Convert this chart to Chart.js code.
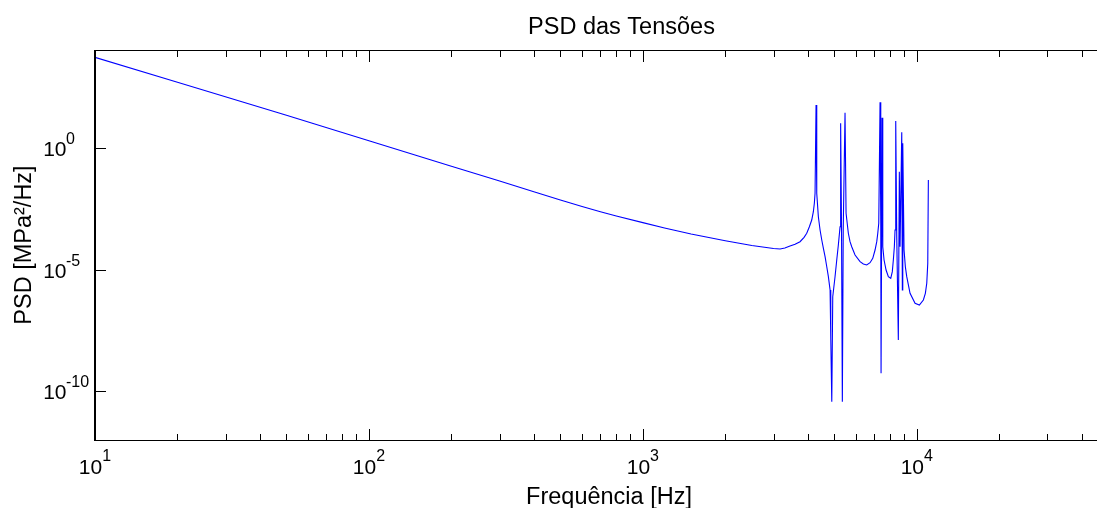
<!DOCTYPE html>
<html>
<head>
<meta charset="utf-8">
<title>PSD das Tensões</title>
<script src="https://cdn.jsdelivr.net/npm/chart.js@4/dist/chart.umd.min.js"></script>
<style>
  html, body { margin: 0; padding: 0; background: #ffffff; }
  #wrap { width: 1097px; height: 508px; position: relative; }
  canvas { display: block; }
</style>
</head>
<body>
<div id="wrap"><canvas id="psdChart" width="1097" height="508"></canvas></div>
<script>
// Texts
const chartTitle = 'PSD das Tensões';
const xAxisTitle = 'Frequência [Hz]';
const yAxisTitle = 'PSD [MPa²/Hz]';

// Frequency axis samples [Hz]
const freqHz = [
  10, 20, 50, 100, 200, 300, 400, 500, 600, 700, 800, 1000, 1200, 1500,
  2000, 2500, 3000, 3170, 3300, 3446, 3595, 3749, 3878, 3966, 4055, 4136,
  4193, 4228, 4253, 4289, 4314, 4373, 4436, 4500, 4562, 4627, 4693, 4757,
  4826, 4854, 4895, 4935, 5031, 5104, 5173, 5248, 5270, 5278, 5313, 5350,
  5390, 5472, 5520, 5626, 5707, 5789, 5953, 6209, 6383, 6567, 6752, 6908,
  7043, 7144, 7206, 7266, 7345, 7389, 7408, 7470, 7515, 7597, 7726, 7876,
  8036, 8143, 8213, 8283, 8331, 8380, 8452, 8565, 8638, 8690, 8815, 8860,
  8890, 8987, 9086, 9193, 9452, 9858, 10221, 10571, 10750, 10877, 10970,
  11024
];

// Stress PSD [MPa²/Hz]
const psdValues = [
  5.5e3, 5.2e2, 22.7, 2.04, 0.183, 4.46e-2, 1.63e-2, 7.41e-3, 3.99e-3, 2.45e-3, 1.63e-3, 8.7e-4, 5.27e-4, 2.99e-4,
  1.58e-4, 1.0e-4, 7.5e-5, 7.2e-5, 7.9e-5, 9.5e-5, 1.12e-4, 1.43e-4, 2.17e-4, 3.18e-4, 5.93e-4, 1.12e-3,
  2.45e-3, 5.45e-3, 1.40e-2, 60, 1.40e-2, 1.53e-3, 4.35e-4, 1.68e-4, 7.67e-5, 3.47e-5, 1.34e-5, 5.21e-6,
  1.48e-6, 1.57e-8, 3.76e-11, 7.83e-7, 5.21e-6, 2.53e-5, 1.05e-4, 5.93e-4, 1.53e-3, 10.6, 5.0e-4, 3.76e-11,
  5.0e-4, 29, 2.11e-3, 3.18e-4, 1.44e-4, 8.93e-5, 4.07e-5, 2.16e-5, 1.73e-5, 1.58e-5, 1.96e-5, 2.97e-5,
  6.53e-5, 1.44e-4, 3.18e-4, 8.18e-4, 78, 8.18e-4, 5.53e-10, 18, 8.93e-5, 2.53e-5, 9.8e-6, 5.21e-6,
  4.48e-6, 8.4e-6, 2.53e-5, 8.93e-5, 4.35e-4, 13.2, 2.3e-4, 1.30e-8, 0.108, 8.93e-5, 4.5, 1.48e-6,
  1.6, 6.53e-5, 1.34e-5, 5.21e-6, 1.08e-6, 4.2e-7, 3.57e-7, 5.73e-7, 1.08e-6, 2.79e-6, 1.85e-5,
  4.94e-2
];

// Axis ticks
const xMajorTicks = [10, 100, 1000, 10000];
const xMajorExponents = ['1', '2', '3', '4'];
const xMinorTicks = [
  20, 30, 40, 50, 60, 70, 80, 90,
  200, 300, 400, 500, 600, 700, 800, 900,
  2000, 3000, 4000, 5000, 6000, 7000, 8000, 9000,
  20000, 30000, 40000
];
const yMajorTicks = [1, 1e-5, 1e-10];
const yMajorExponents = ['0', '-5', '-10'];

const FONT = '"Liberation Sans", Arial, Helvetica, sans-serif';

// Box, tick marks, power-of-ten labels and titles, placed with the chart's own scales
const axesDecor = {
  id: 'axesDecor',
  afterDatasetsDraw(chart) {
    const { ctx, chartArea: a, scales } = chart;
    const xs = scales.x, ys = scales.y;
    ctx.save();
    ctx.strokeStyle = '#000000';
    ctx.fillStyle = '#000000';

    // frame lines
    ctx.lineWidth = 1;
    ctx.beginPath();
    ctx.moveTo(a.left, a.top - 0.5); ctx.lineTo(a.right, a.top - 0.5);
    ctx.moveTo(a.left, a.bottom + 0.5); ctx.lineTo(a.right, a.bottom + 0.5);
    ctx.stroke();
    ctx.lineWidth = 2;
    ctx.beginPath();
    ctx.moveTo(a.left, a.top - 1); ctx.lineTo(a.left, a.bottom + 1);
    ctx.stroke();

    // x tick marks (bottom and top, pointing inward)
    ctx.lineWidth = 1;
    ctx.beginPath();
    const xTick = (v, len) => {
      const px = Math.round(xs.getPixelForValue(v)) + 0.5;
      ctx.moveTo(px, a.bottom); ctx.lineTo(px, a.bottom - len);
      ctx.moveTo(px, a.top); ctx.lineTo(px, a.top + len);
    };
    xMajorTicks.forEach(v => xTick(v, 11));
    xMinorTicks.forEach(v => xTick(v, 6));
    // y tick marks
    yMajorTicks.forEach(v => {
      const py = Math.round(ys.getPixelForValue(v)) + 0.5;
      ctx.moveTo(a.left, py); ctx.lineTo(a.left + 11, py);
    });
    ctx.stroke();

    const baseFont = '21px ' + FONT;
    const expFont = '16px ' + FONT;
    ctx.textBaseline = 'alphabetic';

    // x tick labels: 10 with raised exponent, centred on the tick
    xMajorTicks.forEach((v, i) => {
      const px = xs.getPixelForValue(v);
      ctx.font = baseFont;
      const wb = ctx.measureText('10').width;
      ctx.font = expFont;
      const we = ctx.measureText(xMajorExponents[i]).width;
      const start = px - (wb + we) / 2;
      ctx.textAlign = 'left';
      ctx.font = baseFont;
      ctx.fillText('10', start, a.bottom + 34);
      ctx.font = expFont;
      ctx.fillText(xMajorExponents[i], start + wb, a.bottom + 21);
    });

    // y tick labels
    yMajorTicks.forEach((v, i) => {
      const py = ys.getPixelForValue(v);
      ctx.font = baseFont;
      ctx.textAlign = 'right';
      ctx.fillText('10', 66.5, py + 8);
      ctx.font = expFont;
      ctx.textAlign = 'left';
      ctx.fillText(yMajorExponents[i], 66, py - 4);
    });

    // titles
    ctx.font = '23.5px ' + FONT;
    ctx.textAlign = 'center';
    ctx.fillText(chartTitle, 621.5, 33.5);
    ctx.fillText(xAxisTitle, 609, 503.5);
    ctx.save();
    ctx.translate(31, 245);
    ctx.rotate(-Math.PI / 2);
    ctx.fillText(yAxisTitle, 0, 0);
    ctx.restore();

    ctx.restore();
  }
};

new Chart(document.getElementById('psdChart'), {
  type: 'line',
  data: {
    datasets: [{
      label: 'PSD',
      data: freqHz.map((f, i) => ({ x: f, y: psdValues[i] })),
      borderColor: '#0000ff',
      backgroundColor: '#0000ff',
      borderWidth: 1.1,
      pointRadius: 0,
      tension: 0,
      fill: false
    }]
  },
  options: {
    responsive: false,
    animation: false,
    devicePixelRatio: 1,
    layout: { padding: { left: 95, top: 51, right: 0, bottom: 68 } },
    plugins: {
      legend: { display: false },
      tooltip: { enabled: false },
      title: { display: false }
    },
    scales: {
      x: { type: 'logarithmic', min: 10, max: 45500, display: false },
      y: { type: 'logarithmic', min: 1e-12, max: 1e4, display: false }
    }
  },
  plugins: [axesDecor]
});
</script>
</body>
</html>
